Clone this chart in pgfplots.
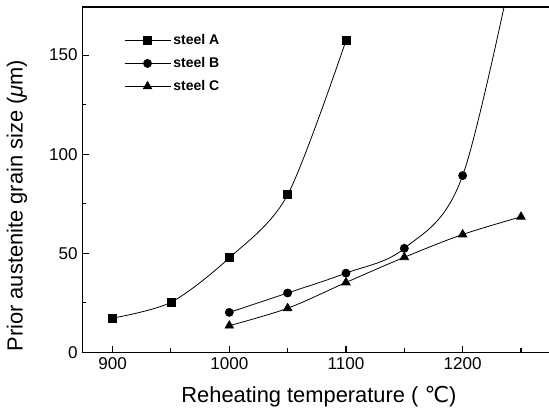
\documentclass[border=0pt]{standalone}
\usepackage{fontspec}
\setmainfont{Liberation Sans}
\newfontfamily\dejavu{DejaVu Sans}
\usepackage{pgfplots}
\pgfplotsset{compat=1.18}

\begin{document}
\begin{tikzpicture}
\begin{axis}[
    scale only axis,
    width=350pt, height=259pt,
    xmin=874, xmax=1274,
    ymin=0, ymax=174.2,
    axis x line*=box,
    axis y line*=left,
    xtick pos=bottom,
    xtick={900,1000,1100,1200},
    minor xtick={950,1050,1150,1250},
    ytick={0,50,100,150},
    minor ytick={25,75,125},
    tick align=inside,
    major tick length=5pt,
    minor tick length=3pt,
    every tick/.style={black, line width=0.8pt},
    axis line style={line width=1.1pt},
    /pgf/number format/assume math mode=true,
    /pgf/number format/1000 sep={},
    tick label style={font=\fontsize{12.8}{14}\selectfont},
    xlabel={Reheating temperature ( {\dejavu ℃})},
    ylabel={Prior austenite grain size (\textit{μ}m)},
    label style={font=\fontsize{16.4}{19}\selectfont},
    xlabel style={at={(axis description cs:0.507,-0.129)}, anchor=center},
    ylabel style={at={(axis description cs:-0.140,0.425)}, anchor=center},
    legend style={draw=none, fill=none, at={(axis description cs:0.081,0.937)},
        anchor=north west, font=\fontsize{10.5}{12}\selectfont\bfseries,
        row sep=4.1pt},
    legend cell align=left,
    legend image code/.code={
        \draw[#1, mark repeat=2, mark phase=2]
            plot coordinates {(0cm,0cm) (0.6cm,0cm) (1.2cm,0cm)};},
]
\addplot[black, line width=0.6pt, smooth, tension=0.5, mark=square*, mark size=3pt,
    mark options={solid, fill=black}]
    coordinates {(900,17.3) (950,25.3) (1000,47.7) (1050,79.5) (1100,157.3)};
\addlegendentry{steel A}
\addplot[black, line width=0.6pt, smooth, tension=0.55, mark=*, mark size=3pt,
    mark options={solid, fill=black}]
    coordinates {(1000,20.2) (1050,30) (1100,40) (1150,52.5) (1200,89.2) (1250,215)};
\addlegendentry{steel B}
\addplot[black, line width=0.6pt, smooth, tension=0.55, mark=triangle*, mark size=3.6pt,
    mark options={solid, fill=black}]
    coordinates {(1000,13.5) (1050,22.3) (1100,35.3) (1150,48) (1200,59.5) (1250,68.4)};
\addlegendentry{steel C}
\end{axis}
\pgfresetboundingbox
\path[use as bounding box] (-61.7pt,-45.5pt) rectangle (350pt,264.3pt);
\end{tikzpicture}
\end{document}
